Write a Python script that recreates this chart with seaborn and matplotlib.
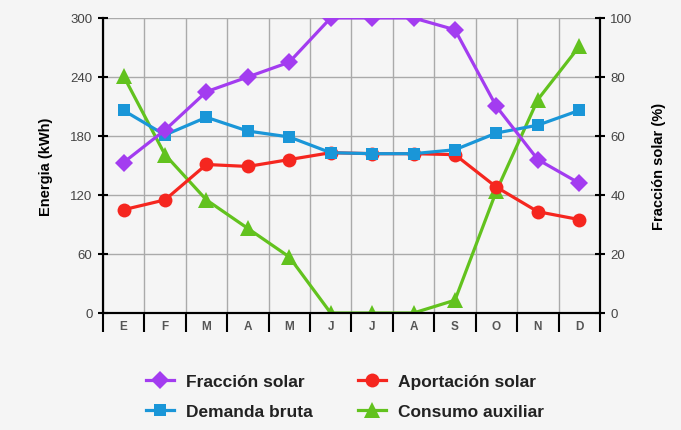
import numpy as np
import pandas as pd
import matplotlib
matplotlib.use("Agg")
import matplotlib.pyplot as plt
import seaborn as sns
from matplotlib.lines import Line2D
from matplotlib.ticker import MultipleLocator

# Monthly data
meses = ["E", "F", "M", "A", "M", "J", "J", "A", "S", "O", "N", "D"]
fraccion_solar = [51, 62, 75, 80, 85, 100, 100, 100, 96, 70, 52, 44]          # %
demanda_bruta = [206, 181, 199, 185, 179, 163, 162, 162, 166, 183, 191, 206]   # kWh
aportacion_solar = [105, 115, 151, 149, 156, 163, 162, 162, 161, 128, 103, 95] # kWh
consumo_auxiliar = [241, 161, 115, 86, 57, 0, 0, 0, 13, 124, 217, 271]         # kWh

df = pd.DataFrame({
    "i": np.arange(len(meses)),
    "fraccion": fraccion_solar,
    "demanda": demanda_bruta,
    "aportacion": aportacion_solar,
    "consumo": consumo_auxiliar,
})

plt.rcParams["font.family"] = ["Liberation Sans", "DejaVu Sans"]

bg = "#f5f5f5"
c_purple = "#a33cf0"
c_blue = "#1a96d8"
c_red = "#f5261f"
c_green = "#62c21e"

fig = plt.figure(figsize=(6.81, 4.31), dpi=100, facecolor=bg)
ax = fig.add_axes([0.151, 0.2715, 0.730, 0.6845])
ax.set_facecolor(bg)

lw = 2.3
# draw order: green, red, blue, then purple on the twin axis
sns.lineplot(data=df, x="i", y="consumo", color=c_green, marker="^", markersize=11,
             markeredgewidth=0, linewidth=lw, ax=ax)
sns.lineplot(data=df, x="i", y="aportacion", color=c_red, marker="o", markersize=10,
             markeredgewidth=0, linewidth=lw, ax=ax)
sns.lineplot(data=df, x="i", y="demanda", color=c_blue, marker="s", markersize=9,
             markeredgewidth=0, linewidth=lw, ax=ax)

ax2 = ax.twinx()
sns.lineplot(data=df, x="i", y="fraccion", color=c_purple, marker="D", markersize=9,
             markeredgewidth=0, linewidth=lw, ax=ax2)

# left axis
ax.set_xlim(-0.5, 11.5)
ax.set_ylim(0, 300)
ax.set_yticks(np.arange(0, 301, 60))
ax.set_xticks(df["i"])
ax.set_xticklabels(meses, fontweight="bold")
ax.xaxis.set_minor_locator(MultipleLocator(1, offset=0.5))
ax.tick_params(axis="x", which="major", length=0, pad=5, labelsize=8.5, labelcolor="#555555")
ax.tick_params(axis="x", which="minor", length=14, width=1.5, direction="out", color="black")
ax.tick_params(axis="y", length=7, width=1.5, direction="inout", labelsize=9.5,
               labelcolor="#444444", pad=4)
ax.grid(True, which="major", axis="y", color="#aaaaaa", linewidth=1)
ax.grid(True, which="minor", axis="x", color="#aaaaaa", linewidth=1)
ax.set_axisbelow(True)
ax.set_xlabel("")
ax.set_ylabel("Energia (kWh)", fontsize=10.5, fontweight="bold", labelpad=12)

# right axis
ax2.set_ylim(0, 100)
ax2.set_yticks(np.arange(0, 101, 20))
ax2.tick_params(axis="y", length=7, width=1.5, direction="inout", labelsize=9.5,
                labelcolor="#444444", pad=4)
ax2.set_ylabel("Fracción solar (%)", fontsize=10.5, fontweight="bold", labelpad=14)
ax2.set_xlabel("")

for a in (ax, ax2):
    a.spines["top"].set_visible(False)
    a.spines["left"].set_linewidth(1.5)
    a.spines["right"].set_linewidth(1.5)
    a.spines["bottom"].set_linewidth(1.5)

handles = [
    Line2D([], [], color=c_purple, marker="D", markersize=9, linewidth=lw, markeredgewidth=0),
    Line2D([], [], color=c_blue, marker="s", markersize=9, linewidth=lw, markeredgewidth=0),
    Line2D([], [], color=c_red, marker="o", markersize=10, linewidth=lw, markeredgewidth=0),
    Line2D([], [], color=c_green, marker="^", markersize=11, linewidth=lw, markeredgewidth=0),
]
labels = ["Fracción solar", "Demanda bruta", "Aportación solar", "Consumo auxiliar"]
fig.legend(handles, labels, ncol=2, loc="center", bbox_to_anchor=(0.507, 0.078),
           frameon=False, prop={"size": 12.5, "weight": "bold"}, handlelength=1.6,
           columnspacing=2.6, labelspacing=0.85, handletextpad=0.7, labelcolor="#222222")

fig.savefig("out.png", dpi=100, facecolor=bg)
